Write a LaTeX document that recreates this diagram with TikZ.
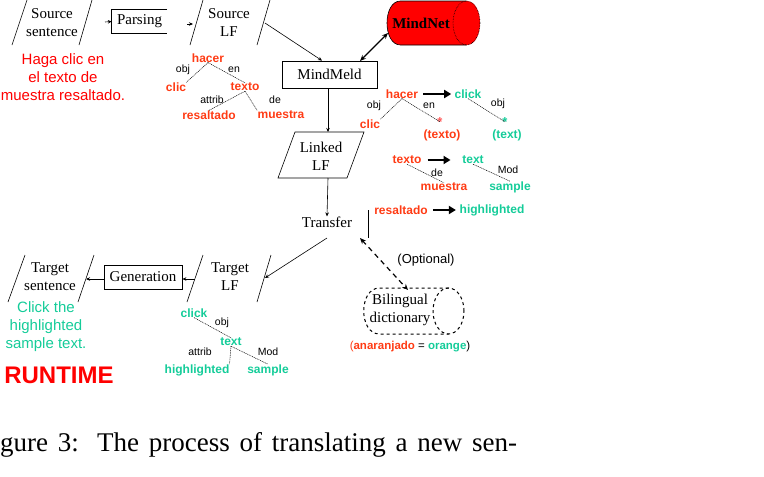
\documentclass[tikz,border=0pt]{standalone}
\usepackage{fontspec}
\setmainfont{Liberation Serif}
\setsansfont{Liberation Sans}
\usetikzlibrary{arrows.meta}
\definecolor{orng}{HTML}{FF3B14}
\definecolor{tealg}{HTML}{14CC99}
\definecolor{rd}{HTML}{FF0000}
\definecolor{pinkst}{HTML}{FF5A5A}
\begin{document}
\begin{tikzpicture}[x=1pt,y=-1pt,
  serif/.style={font=\fontsize{15}{18}\selectfont, align=center, inner sep=0pt},
  tn/.style={font=\sffamily\bfseries\fontsize{12}{14}\selectfont, text=orng, inner sep=0pt},
  tg/.style={tn, text=tealg},
  starn/.style={font=\sffamily\bfseries\fontsize{13}{14}\selectfont, inner sep=0pt, anchor=base, text height=4pt, text depth=0pt},
  lbl/.style={font=\sffamily\fontsize{10.5}{12}\selectfont, inner sep=0pt},
  sent/.style={font=\sffamily\fontsize{15}{18}\selectfont, align=center, inner sep=0pt},
  treeedge/.style={line width=0.5pt, dash pattern=on 1pt off 0.8pt},
  side/.style={line width=0.6pt},
  conn/.style={line width=0.6pt, -{Stealth[length=4pt,width=3.5pt]}},
  bigarr/.style={line width=1.8pt, -{Triangle[length=7pt,width=8pt]}},
  boxed/.style={draw, line width=0.8pt, serif}
]
\useasboundingbox (0,0) rectangle (764,477);

% ---------- Source sentence ----------
\draw[side] (27,0) -- (12,45);
\draw[side] (92,0) -- (79,45);
\node[serif] (srcs) at (52,23) {Source\\sentence};
\node[sent, text=rd] (spsent) at (63,77) {Haga clic en\\el texto de\\muestra resaltado.};

% ---------- Parsing ----------
\node[serif, minimum width=55pt, minimum height=23pt] (parse) at (139.5,21.5) {Parsing};
\draw[line width=0.8pt] (parse.north east) -- (parse.north west) -- (parse.south west) -- (parse.south east);
\coordinate (pstub) at (105,22);
\draw[conn] (pstub) -- (parse.west);

% ---------- Source LF ----------
\draw[side] (203,0) -- (190,45);
\draw[side] (270,0) -- (257,45);
\node[serif] (slf) at (229,23) {Source\\LF};
\coordinate (slfstub) at (187,24);
\coordinate (slfin) at (193,24);
\draw[conn] (slfstub) -- (slfin);
\coordinate (slfout) at (265,23);

% source tree
\node[tn] (hacer1) at (208,58) {hacer};
\node[lbl] (obj1) at (183,70) {obj};
\node[lbl] (en1) at (234,70) {en};
\node[tn] (clic1) at (176,87) {clic};
\node[tn] (texto1) at (245,87) {texto};
\node[lbl] (attrib1) at (212,100) {attrib};
\node[lbl] (de1) at (275,100) {de};
\node[tn] (resal1) at (209,115) {resaltado};
\node[tn] (muestra1) at (281,115) {muestra};
\draw[treeedge] (hacer1.south) -- (clic1.north east);
\draw[treeedge] (hacer1.south) -- (texto1.north);
\draw[treeedge] (texto1.south) -- (resal1.north);
\draw[treeedge] (texto1.south) -- (muestra1.north west);

% ---------- MindMeld & MindNet ----------
\node[boxed, minimum width=95pt, minimum height=27pt] (mm) at (329.5,74.5) {MindMeld};
\draw[conn] (slfout) -- (mm.north -| 322,0);
% MindNet cylinder
\fill[rd] (466.5,1) -- (400.5,1) .. controls (382.5,1) and (382.5,45) .. (400.5,45) -- (466.5,45)
   .. controls (484.5,45) and (484.5,1) .. (466.5,1) -- cycle;
\draw[line width=0.6pt] (466.5,1) -- (400.5,1) .. controls (382.5,1) and (382.5,45) .. (400.5,45) -- (466.5,45);
\draw[line width=0.6pt, densely dotted] (466.5,23) ellipse [x radius=13.5pt, y radius=22pt];
\node[serif, font=\fontsize{15}{18}\selectfont\bfseries] (mnt) at (421,23) {MindNet};
\coordinate (mmtop) at (360,61);
\coordinate (mnleft) at (388,33);
\draw[line width=1.3pt, {Stealth[length=6pt,width=5pt]}-{Stealth[length=6pt,width=5pt]}] (mmtop) -- (mnleft);

% ---------- Linked LF ----------
\draw[side] (295,132) -- (364,132) -- (347,178) -- (278,178) -- cycle;
\node[serif] (llf) at (321,156) {Linked\\LF};
\coordinate (lltop) at (328,132);
\coordinate (llbot) at (328,178);
\draw[conn] (mm.south -| 328,0) -- (lltop);

% ---------- Transfer ----------
\node[serif] (tr) at (327,222) {Transfer};
\draw[conn] (llbot) -- (tr.north);
\coordinate (vtop) at (368,210);
\coordinate (vbot) at (368,238);
\draw[line width=0.8pt] (vtop) -- (vbot);

% transfer rules
\node[tn] (hacer2) at (402,94) {hacer};
\node[tg] (click2) at (468,94) {click};
\draw[bigarr] (hacer2.east) ++(5,0) -- ++(28,0);
\node[lbl] (obj2) at (374,106) {obj};
\node[lbl] (en2) at (429,106) {en};
\node[tn] (clic2) at (370,124) {clic};
\node[starn, text=pinkst] (star2) at (440,126) {*};
\node[tn] (texto2) at (442,135) {(texto)};
\draw[treeedge] (hacer2.south) -- (star2.north);
\draw[treeedge] (hacer2.south) -- (clic2.north east);
\node[lbl] (obj3) at (498,104) {obj};
\node[starn, text=tealg] (star3) at (505,126) {*};
\node[tg] (text3) at (507,135) {(text)};
\draw[treeedge] (click2.south) -- (star3.north);

\node[tn] (texto4) at (407,160) {texto};
\node[tg] (text4) at (473,160) {text};
\draw[bigarr] (texto4.east) ++(6,0) -- ++(23,0);
\node[lbl] (de4) at (437,173) {de};
\node[tn] (muestra4) at (444,187) {muestra};
\draw[treeedge] (texto4.south) -- (muestra4.north);
\node[lbl] (mod4) at (508,170) {Mod};
\node[tg] (sample4) at (510,187) {sample};
\draw[treeedge] (text4.south) -- (sample4.north);

\node[tn] (resal5) at (401,210) {resaltado};
\node[tg] (high5) at (492,210) {highlighted};
\draw[bigarr] (resal5.east) ++(5,0) -- ++(23,0);

% ---------- Bilingual dictionary ----------
\coordinate (trout) at (360,238);
\draw[line width=1pt, dashed] (448.5,288) -- (379.5,288) .. controls (358.5,288) and (358.5,334) .. (379.5,334) -- (448.5,334);
\draw[line width=1pt, dashed] (448.5,311) ellipse [x radius=15.5pt, y radius=23pt];
\node[serif] (bdt) at (400,310) {Bilingual\\dictionary};
\coordinate (bdtop) at (408,290);
\draw[line width=1.2pt, dash pattern=on 5pt off 4pt, {Stealth[length=6pt,width=5pt]}-{Stealth[length=6pt,width=5pt]}] (trout) -- (bdtop);
\node[font=\sffamily\fontsize{13}{15}\selectfont, inner sep=0pt] (opt) at (426,260) {(Optional)};
\node[font=\sffamily\fontsize{11.5}{14}\selectfont, inner sep=0pt] (ana) at (410,347)
  {\textcolor{orng}{(}\textcolor{orng}{\bfseries anaranjado} = \textcolor{tealg}{\bfseries orange})};

% ---------- Target LF ----------
\coordinate (trdown) at (327,238);
\draw[side] (203,255) -- (187,302);
\draw[side] (271,255) -- (257,302);
\node[serif] (tlf) at (230,277) {Target\\LF};
\coordinate (tlfin) at (265,278);
\draw[conn] (trdown) -- (tlfin);

% target tree
\node[tg] (click6) at (194,313) {click};
\node[lbl] (obj6) at (222,323) {obj};
\node[tg] (text6) at (231,342) {text};
\node[lbl] (attrib6) at (200,352) {attrib};
\node[lbl] (mod6) at (268,352) {Mod};
\node[tg] (high6) at (197,370) {highlighted};
\node[tg] (sample6) at (268,370) {sample};
\draw[treeedge] (click6.south) -- (text6.north);
\draw[treeedge] (text6.south) -- (high6.north east);
\draw[treeedge] (text6.south) -- (sample6.north);

% ---------- Generation ----------
\node[boxed, minimum width=78pt, minimum height=24pt] (gen) at (143,277) {Generation};
\coordinate (tlfout) at (195,279);
\draw[conn] (tlfout) -- (gen.east |- tlfout);

% ---------- Target sentence ----------
\draw[side] (25,255) -- (8,302);
\draw[side] (94,255) -- (78,302);
\node[serif] (tgs) at (50,277) {Target\\sentence};
\coordinate (tgsin) at (86,279);
\draw[conn] (gen.west |- tgsin) -- (tgsin);
\node[sent, text=tealg] (ensent) at (46,327) {Click the\\highlighted\\sample text.};
\node[font=\sffamily\bfseries\fontsize{24}{26}\selectfont, text=rd, inner sep=0pt] (rt) at (59,375) {RUNTIME};

% ---------- Caption ----------
\node[anchor=base west, font=\fontsize{27}{30}\selectfont, inner sep=0pt] (cap) at (0,451)
  {\spaceskip=9.8pt\relax gure 3:\hspace{6pt} The process of translating a new sen-};
\end{tikzpicture}
\end{document}
